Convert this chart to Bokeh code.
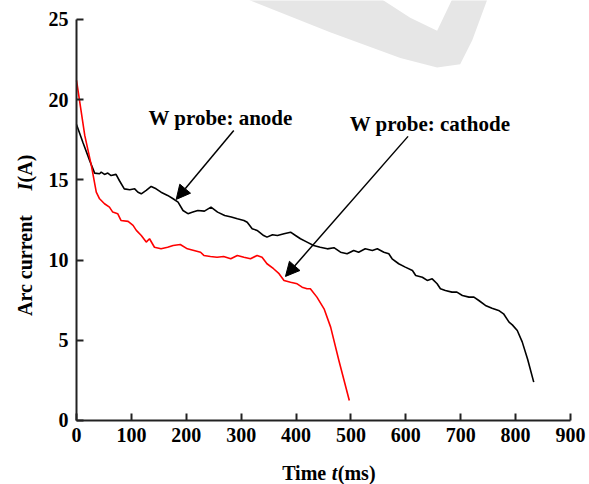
import math
from bokeh.plotting import figure
from bokeh.models import Range1d, Label, Arrow, NormalHead, FixedTicker, PolyAnnotation
from bokeh.embed import file_html
from bokeh.resources import INLINE

# ---- data ----
anode_t = [0, 12, 24, 33, 42, 45, 51, 57, 63, 72, 78, 87, 97, 106, 112, 118, 127, 136, 145, 154,
           166, 176, 185, 194, 203, 212, 221, 233, 245, 257, 270, 282, 293, 305, 311, 320, 329, 341,
           347, 357, 366, 378, 390, 399, 408, 420, 432, 444, 457, 469, 481, 493, 505, 514, 526, 539,
           548, 560, 569, 575, 587, 599, 612, 618, 630, 639, 648, 657, 663, 672, 684, 693, 703, 715,
           724, 733, 745, 757, 769, 778, 788, 794, 803, 812, 822, 833]
anode_I = [18.45, 17.3, 16.2, 15.42, 15.38, 15.48, 15.34, 15.42, 15.27, 15.34, 14.96, 14.44, 14.38,
           14.44, 14.23, 14.13, 14.34, 14.59, 14.44, 14.23, 14.03, 13.82, 13.61, 13.09, 12.89, 12.99,
           13.09, 13.05, 13.3, 12.99, 12.78, 12.68, 12.57, 12.47, 12.36, 11.95, 11.85, 11.53, 11.43,
           11.58, 11.53, 11.64, 11.74, 11.53, 11.33, 11.12, 10.91, 10.8, 10.7, 10.77, 10.49, 10.39,
           10.6, 10.49, 10.7, 10.6, 10.7, 10.49, 10.39, 10.08, 9.77, 9.56, 9.35, 9.04, 8.93, 8.73,
           8.83, 8.52, 8.21, 8.1, 8.0, 8.0, 7.79, 7.69, 7.69, 7.48, 7.17, 7.0, 6.86, 6.65, 6.13, 5.96,
           5.61, 4.9, 3.8, 2.39]

cath_t = [0, 15, 27, 36, 42, 51, 60, 66, 75, 81, 94, 103, 109, 118, 127, 133, 142, 154, 166, 176,
          189, 202, 214, 226, 232, 244, 256, 268, 281, 293, 305, 317, 329, 338, 347, 359, 369, 378,
          390, 402, 411, 420, 426, 438, 451, 463, 478, 497]
cath_I = [21.2, 17.77, 15.9, 14.23, 13.82, 13.51, 13.3, 12.99, 12.89, 12.47, 12.41, 12.16, 11.85,
          11.53, 11.12, 11.33, 10.8, 10.7, 10.8, 10.91, 10.97, 10.7, 10.6, 10.49, 10.29, 10.22, 10.18,
          10.22, 10.08, 10.29, 10.18, 10.08, 10.29, 10.18, 9.77, 9.46, 9.15, 8.73, 8.62, 8.52, 8.31,
          8.21, 8.21, 7.69, 6.96, 5.82, 3.74, 1.25]

x_ticks = [0, 100, 200, 300, 400, 500, 600, 700, 800, 900]
y_ticks = [0, 5, 10, 15, 20, 25]

FONT = "Liberation Serif"

# the frame fills the canvas; axes are pinned at data 0 and bounded to the data span
p = figure(width=589, height=484, output_backend="svg", toolbar_location=None,
           x_range=Range1d(-138.5, 934.6), y_range=Range1d(-3.99, 26.18),
           min_border=0, min_border_left=0, min_border_right=0,
           min_border_top=0, min_border_bottom=0)
p.outline_line_color = None
p.grid.visible = False
p.background_fill_color = "white"
p.border_fill_color = "white"

for ax in (p.xaxis[0], p.yaxis[0]):
    ax.fixed_location = 0
    ax.axis_line_width = 2
    ax.axis_line_color = "#222222"
    ax.major_tick_in = 7
    ax.major_tick_out = 0
    ax.major_tick_line_width = 2
    ax.major_tick_line_color = "#222222"
    ax.minor_tick_line_color = None
    ax.major_label_text_font = FONT
    ax.major_label_text_font_style = "bold"
    ax.major_label_text_font_size = "20px"
    ax.major_label_text_color = "black"
    ax.major_label_standoff = 8
p.xaxis.ticker = FixedTicker(ticks=x_ticks)
p.yaxis.ticker = FixedTicker(ticks=y_ticks)
p.xaxis.bounds = (0, 900)
p.yaxis.bounds = (0, 25)

# light watermark shape at the top of the page
wm = PolyAnnotation(xs=[308, 462, 590, 657, 699, 721, 749, 685, 657, 608, 554],
                    ys=[26.3, 24.2, 22.6, 22.0, 22.2, 23.7, 26.3, 26.3, 24.3, 25.1, 26.3],
                    fill_color="#e6e6e6", fill_alpha=1.0, line_color=None, level="underlay")
p.add_layout(wm)

p.line(anode_t, anode_I, line_color="black", line_width=1.6)
p.line(cath_t, cath_I, line_color="#ff0000", line_width=1.6)

# arrows
p.add_layout(Arrow(end=NormalHead(size=14, fill_color="black", line_color="black"),
                   x_start=286.5, y_start=18.08, x_end=181.6, y_end=13.78,
                   line_color="black", line_width=1.5))
p.add_layout(Arrow(end=NormalHead(size=14, fill_color="black", line_color="black"),
                   x_start=604, y_start=17.71, x_end=380.7, y_end=8.98,
                   line_color="black", line_width=1.5))

def lab(x, y, text, style="bold", align="left", angle=0.0, size="20px"):
    p.add_layout(Label(x=x, y=y, text=text, text_font=FONT, text_font_style=style,
                       text_font_size=size, text_align=align, text_baseline="middle",
                       angle=angle, text_color="black"))

lab(131, 18.83, "W probe: anode", size="21px")
lab(497.8, 18.5, "W probe: cathode", size="21px")

# x axis title: Time t(ms)
lab(464, -3.3, "Time ", align="right")
lab(465, -3.3, "t", style="bold italic")
lab(476, -3.3, "(ms)")

# y axis title: Arc current   I(A)
lab(-94.7, 9.66, "Arc current", align="center", angle=math.pi / 2)
lab(-94.7, 14.34, "I", style="bold italic", angle=math.pi / 2)
lab(-94.7, 14.84, "(A)", angle=math.pi / 2)

open("out.html", "w").write(file_html(p, INLINE))
